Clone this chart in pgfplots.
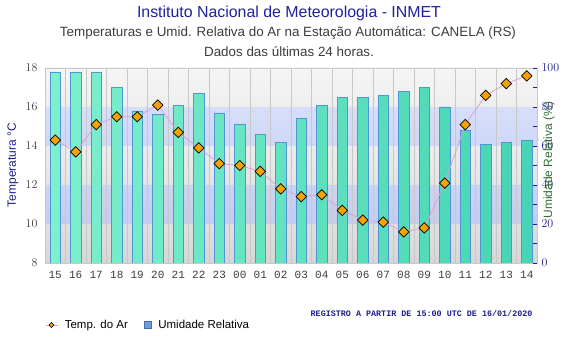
\documentclass[border=0pt]{standalone}
\usepackage{pgfplots}
\pgfplotsset{compat=1.18}
\usepackage{fontspec}
\setmainfont{Liberation Sans}
\newfontfamily\monofont{Liberation Mono}
\definecolor{titleblue}{RGB}{32,32,160}
\definecolor{subgray}{RGB}{60,60,60}
\definecolor{navy}{RGB}{30,30,140}
\definecolor{labgreen}{RGB}{50,110,50}
\definecolor{gridgray}{RGB}{200,200,200}
\definecolor{bandA}{RGB}{214,214,214}
\definecolor{bandAt}{RGB}{224,224,224}
\definecolor{bandB}{RGB}{196,205,240}
\definecolor{bandBt}{RGB}{204,212,244}
\definecolor{bandC}{RGB}{228,228,228}
\definecolor{bandCt}{RGB}{236,236,236}
\definecolor{bandD}{RGB}{206,215,246}
\definecolor{bandDt}{RGB}{214,222,250}
\definecolor{bandE}{RGB}{238,238,238}
\definecolor{bandEt}{RGB}{245,245,245}
\definecolor{barL}{RGB}{125,240,205}
\definecolor{barR}{RGB}{70,212,180}
\definecolor{barEdge}{RGB}{80,150,210}
\definecolor{linecol}{RGB}{220,160,215}
\definecolor{markorange}{RGB}{245,163,0}
\definecolor{legblue}{RGB}{110,155,220}
\definecolor{legblueedge}{RGB}{70,110,180}
\pgfplotsset{
  base/.style={at={(45pt,87pt)}, anchor=south west, scale only axis,
    width=492pt, height=195pt, xmin=-0.5, xmax=23.5},
}
\begin{document}
\begin{tikzpicture}
\path[use as bounding box] (0pt,0pt) rectangle (580pt,350pt);
% background bands and grid
\begin{axis}[base, ymin=0, ymax=100, axis on top,
  xtick={-0.5,0.5,...,23.5}, xticklabels={}, xmajorgrids,
  major grid style={gridgray, line width=0.8pt},
  major tick length=0pt, ytick=\empty,
  axis line style={gridgray, line width=0.8pt}]
\fill[bottom color=bandA, top color=bandAt] (axis cs:-0.5,0) rectangle (axis cs:23.5,20);
\fill[bottom color=bandB, top color=bandBt] (axis cs:-0.5,20) rectangle (axis cs:23.5,40);
\fill[bottom color=bandC, top color=bandCt] (axis cs:-0.5,40) rectangle (axis cs:23.5,60);
\fill[bottom color=bandD, top color=bandDt] (axis cs:-0.5,60) rectangle (axis cs:23.5,80);
\fill[bottom color=bandE, top color=bandEt] (axis cs:-0.5,80) rectangle (axis cs:23.5,100);
\end{axis}
% humidity bars
\begin{axis}[base, ymin=0, ymax=100, axis line style={draw=none},
  xtick=\empty, ytick={0,20,...,100}, minor ytick={10,30,50,70,90},
  ytick pos=right, tick align=inside, major tick length=4pt, minor tick length=4pt,
  tick style={navy, line width=0.8pt},
  yticklabel style={font=\fontsize{12}{14}\selectfont, color=navy, xshift=1pt}]
\addplot[ybar, bar width=10.5pt, draw=barEdge, line width=0.6pt,
  left color=barL, right color=barR] coordinates {
(0,98) (1,98) (2,98) (3,90) (4,78) (5,76) (6,81) (7,87) (8,77) (9,71)
(10,66) (11,62) (12,74) (13,81) (14,85) (15,85) (16,86) (17,88) (18,90)
(19,80) (20,68) (21,61) (22,62) (23,63)};
\end{axis}
% temperature line
\begin{axis}[base, ymin=8, ymax=18, axis line style={draw=none},
  ytick={8,10,...,18}, ytick pos=left, major tick length=0pt,
  yticklabel style={font=\fontsize{12}{14}\selectfont, color=subgray, xshift=-4pt},
  xtick={0,...,23}, xtick pos=bottom,
  xticklabels={15,16,17,18,19,20,21,22,23,00,01,02,03,04,05,06,07,08,09,10,11,12,13,14},
  xticklabel style={font=\monofont\fontsize{11}{13}\selectfont, color=subgray, yshift=-5pt},
  legend style={at={(0,-0.318)}, anchor=west, draw=none, fill=none,
    legend columns=2, font=\fontsize{11.5}{13}\selectfont, inner sep=0pt,
    /tikz/every odd column/.append style={column sep=5pt},
    /tikz/every even column/.append style={column sep=14pt}},
  legend cell align=left]
\addplot[linecol, line width=0.8pt, mark=square*, mark size=3.7pt,
  mark options={rotate=45, fill=markorange, draw=black, line width=0.7pt},
  legend image code/.code={
    \draw[linecol, line width=0.6pt] (0pt,0pt) -- (12pt,0pt);
    \draw[fill=markorange, draw=black, line width=0.4pt] (6pt,-2.5pt) -- (8.5pt,0pt) -- (6pt,2.5pt) -- (3.5pt,0pt) -- cycle;}]
coordinates {
(0,14.3) (1,13.7) (2,15.1) (3,15.5) (4,15.5) (5,16.1) (6,14.7) (7,13.9)
(8,13.1) (9,13.0) (10,12.7) (11,11.8) (12,11.4) (13,11.5) (14,10.7)
(15,10.2) (16,10.1) (17,9.6) (18,9.8) (19,12.1) (20,15.1) (21,16.6)
(22,17.2) (23,17.6)};
\addlegendentry{Temp. do Ar}
\addlegendimage{legend image code/.code={
  \draw[fill=legblue, draw=legblueedge, line width=0.5pt] (0pt,-3.5pt) rectangle (7pt,3.5pt);}}
\addlegendentry{Umidade Relativa}
\end{axis}
% texts
\node[font=\fontsize{15.9}{19}\selectfont, color=titleblue] at (289pt,337pt) {Instituto Nacional de Meteorologia - INMET};
\node[font=\fontsize{13.4}{16}\selectfont, color=subgray] at (288pt,317pt) {Temperaturas e Umid. Relativa do Ar na Estação Automática: CANELA (RS)};
\node[font=\fontsize{13.4}{16}\selectfont, color=subgray] at (289pt,298pt) {Dados das últimas 24 horas.};
\node[font=\fontsize{12}{14}\selectfont, color=navy, rotate=90] at (13pt,185pt) {Temperatura °C};
\node[font=\fontsize{12}{14}\selectfont, color=labgreen, rotate=90] at (549pt,190pt) {Umidade Relativa (\%)};
\node[font=\monofont\bfseries\fontsize{8.4}{10}\selectfont, color=navy, anchor=east] at (536pt,37pt) {REGISTRO A PARTIR DE 15:00 UTC DE 16/01/2020};
\end{tikzpicture}
\end{document}
